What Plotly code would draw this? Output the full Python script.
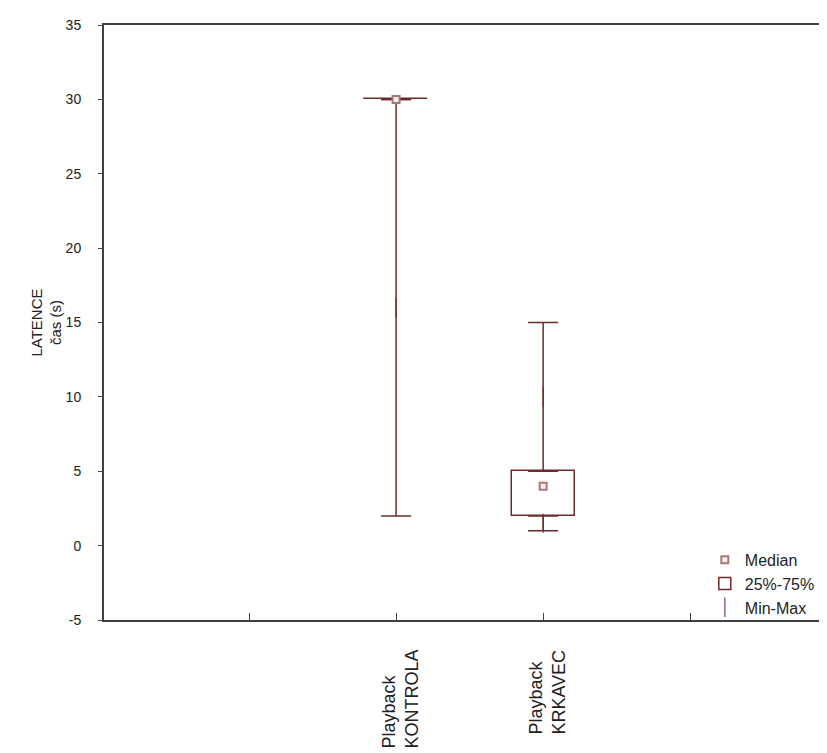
import plotly.graph_objects as go

# ---- data ----
categories = ["Playback<br>KONTROLA", "Playback<br>KRKAVEC"]
axis_slots = [" ", "Playback<br>KONTROLA", "Playback<br>KRKAVEC", "  "]
mins = [2, 1]
q1 = [30, 2]
medians = [30, 4]
q3 = [30, 5]
maxs = [30, 15]
y_ticks = [-5, 0, 5, 10, 15, 20, 25, 30, 35]
y_ticktext = ["-5", "0", "5", "10", "15", "20", "25", "30", "35"]

LINE = "#6e2a2a"
MED = "#a87878"
AX = "#404040"

fig = go.Figure()

# box 25%-75%
fig.add_trace(go.Bar(
    x=categories, base=q1, y=[b - a for a, b in zip(q1, q3)],
    width=0.43, name="25%-75%", legendrank=2,
    marker=dict(color="white", line=dict(color=LINE, width=1.5)),
    hoverinfo="skip",
))

# lower whiskers (min .. q1)
fig.add_trace(go.Scatter(
    x=categories, y=[(a + b) / 2 for a, b in zip(mins, q1)],
    mode="markers", name="Min-Max", legendrank=3,
    marker=dict(symbol="line-ns", size=[14 if b > a else 0 for a, b in zip(mins, q1)],
                color=LINE, line=dict(color=LINE, width=1.5)),
    error_y=dict(type="data", symmetric=True,
                 array=[(b - a) / 2 for a, b in zip(mins, q1)],
                 color=LINE, thickness=1.5, width=15),
    hoverinfo="skip",
))

# upper whiskers (q3 .. max)
fig.add_trace(go.Scatter(
    x=categories, y=[(a + b) / 2 for a, b in zip(q3, maxs)],
    mode="markers", showlegend=False,
    marker=dict(symbol="line-ns", size=[14 if b > a else 0 for a, b in zip(q3, maxs)],
                color=LINE, line=dict(color=LINE, width=1.5)),
    error_y=dict(type="data", symmetric=True,
                 array=[(b - a) / 2 for a, b in zip(q3, maxs)],
                 color=LINE, thickness=1.5, width=15),
    hoverinfo="skip",
))

# medians
fig.add_trace(go.Scatter(
    x=categories, y=medians, mode="markers", name="Median", legendrank=1,
    marker=dict(symbol="square", size=7, color="#f6eeee",
                line=dict(color=MED, width=2)),
    hoverinfo="skip",
))

# category labels (rotated, lines aligned at their start)
for cat in categories:
    fig.add_annotation(
        x=cat, xref="x", y=-0.047, yref="paper",
        text=cat, textangle=-90, align="left",
        xanchor="center", yanchor="top", showarrow=False, xshift=4,
        font=dict(size=18, color="#222"),
    )

fig.update_layout(
    width=819, height=745,
    margin=dict(l=96, r=0, t=17, b=133),
    paper_bgcolor="white", plot_bgcolor="white",
    font=dict(family="Liberation Sans, Arial, sans-serif", size=13, color="#222"),
    showlegend=True,
    legend=dict(x=0.831, xanchor="left", y=-0.008, yanchor="bottom",
                bgcolor="rgba(255,255,255,0)", font=dict(size=16, color="#222"),
                tracegroupgap=0, itemwidth=30),
    bargap=0,
)

fig.update_xaxes(
    type="category", categoryorder="array", categoryarray=axis_slots,
    range=[-0.986, 3.93],
    showline=True, mirror=True, linecolor=AX, linewidth=2,
    ticks="inside", ticklen=7, tickcolor=AX, tickwidth=1,
    showticklabels=False, showgrid=False, zeroline=False,
)

fig.update_yaxes(
    range=[-5, 35], tickvals=y_ticks, ticktext=y_ticktext,
    showline=True, linecolor=AX, linewidth=2,
    ticks="outside", ticklen=4, tickcolor=AX,
    showgrid=False, zeroline=False,
    ticklabelstandoff=14,
    tickfont=dict(size=14, color="#222"),
    title=dict(text="LATENCE<br>čas (s)", standoff=0, font=dict(size=15, color="#222")),
)

fig.write_html("out.html")
